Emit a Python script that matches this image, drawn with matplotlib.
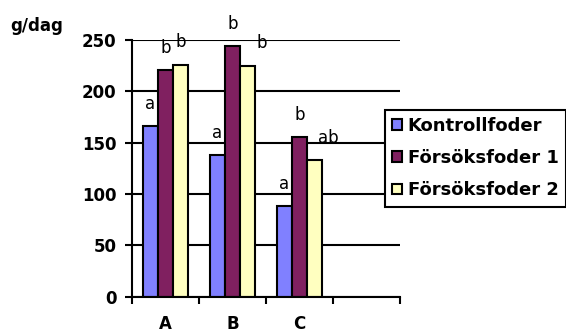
import matplotlib.pyplot as plt
import numpy as np

groups = ["A", "B", "C"]
series = ["Kontrollfoder", "Försöksfoder 1", "Försöksfoder 2"]
kontroll = [166, 138, 88]
forsok1 = [221, 244, 155]
forsok2 = [226, 225, 133]
letters = [["a", "a", "a"], ["b", "b", "b"], ["b", "b", "ab"]]
colors = ["#8080FF", "#802060", "#FFFFC0"]

plt.rcParams['font.family'] = ['DejaVu Sans']

fig = plt.figure(figsize=(5.66, 3.34), dpi=100)
ax = fig.add_axes([132 / 566, 1 - 296.5 / 334, 268 / 566, 256.5 / 334])

w = 0.224
x = np.arange(len(groups))
# x nudge (in category units) for labels that sit off-centre in the original
nudge = [[0, 0, 0], [0, 0, 0], [0, 0.21, 0.2]]
for j, (vals, name) in enumerate(zip([kontroll, forsok1, forsok2], series)):
    pos = x + (j - 1) * w
    ax.bar(pos, vals, width=w, color=colors[j], edgecolor="black",
           linewidth=1.5, label=name, zorder=3)
    for i, v in enumerate(vals):
        ax.annotate(letters[j][i], (pos[i] + nudge[j][i], v), xytext=(0, 16),
                    textcoords="offset points", ha="center", va="center",
                    fontsize=12, annotation_clip=False)

ax.set_xlim(-0.5, 3.5)
ax.set_ylim(0, 250)
ax.set_yticks(range(0, 251, 50))
ax.set_xticks(np.arange(-0.5, 3.6, 1))
ax.set_xticklabels([])
ax.set_xticks(x, minor=True)
ax.set_xticklabels(groups, minor=True, fontsize=12, fontweight="bold")
ax.tick_params(axis="x", which="minor", length=0, pad=13)
ax.tick_params(axis="x", which="major", length=5, width=1.5, direction="out")
ax.tick_params(axis="y", length=5, width=1.5, direction="out", pad=6,
               labelsize=12)
for lab in ax.get_yticklabels():
    lab.set_fontweight("bold")

ax.yaxis.grid(True, color="black", linewidth=1.5)
ax.set_axisbelow(True)
for s in ["top", "right"]:
    ax.spines[s].set_visible(False)
for s in ["left", "bottom"]:
    ax.spines[s].set_linewidth(1.5)
    ax.spines[s].set_zorder(4)

fig.text(10 / 566, 1 - 31 / 334, "g/dag", fontsize=12, fontweight="bold",
         ha="left", va="baseline")

leg = fig.legend(loc="upper left", bbox_to_anchor=(385 / 566, 1 - 110 / 334),
                 borderaxespad=0, fancybox=False, framealpha=1,
                 edgecolor="black", prop={"weight": "bold", "size": 13},
                 handlelength=0.55, handleheight=0.55, handletextpad=0.3,
                 labelspacing=0.78, borderpad=0.4)
leg.get_frame().set_linewidth(1.5)

fig.savefig("out.png", dpi=100)
